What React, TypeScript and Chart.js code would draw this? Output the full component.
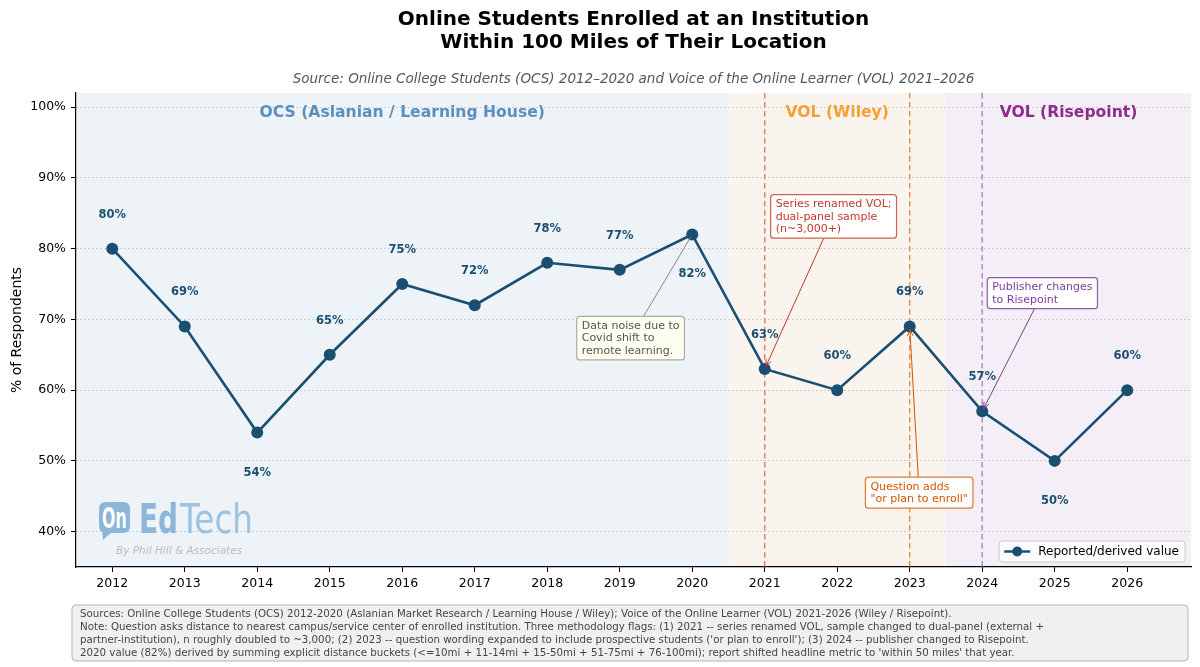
import React, { useEffect, useRef } from "react";
import { Chart, registerables } from "chart.js";
Chart.register(...registerables);

const YEARS = [2012, 2013, 2014, 2015, 2016, 2017, 2018, 2019, 2020, 2021, 2022, 2023, 2024, 2025, 2026];
const VALUES = [80, 69, 54, 65, 75, 72, 78, 77, 82, 63, 60, 69, 57, 50, 60];
const LABEL_BELOW_YEARS = [2014, 2020, 2025];
const Y_TICKS = [40, 50, 60, 70, 80, 90, 100];

const TITLE_LINES = ["Online Students Enrolled at an Institution", "Within 100 Miles of Their Location"];
const SUBTITLE = "Source: Online College Students (OCS) 2012\u20132020 and Voice of the Online Learner (VOL) 2021\u20132026";
const Y_TITLE = "% of Respondents";
const LEGEND_LABEL = "Reported/derived value";
const FOOTER_LINES = [
  "Sources: Online College Students (OCS) 2012-2020 (Aslanian Market Research / Learning House / Wiley); Voice of the Online Learner (VOL) 2021-2026 (Wiley / Risepoint).",
  "Note: Question asks distance to nearest campus/service center of enrolled institution. Three methodology flags: (1) 2021 -- series renamed VOL, sample changed to dual-panel (external +",
  "partner-institution), n roughly doubled to ~3,000; (2) 2023 -- question wording expanded to include prospective students ('or plan to enroll'); (3) 2024 -- publisher changed to Risepoint.",
  "2020 value (82%) derived by summing explicit distance buckets (<=10mi + 11-14mi + 15-50mi + 51-75mi + 76-100mi); report shifted headline metric to 'within 50 miles' that year.",
];

const REGION_NAMES = ["OCS (Aslanian / Learning House)", "VOL (Wiley)", "VOL (Risepoint)"];
const REGION_STARTS = [2011.5, 2020.5, 2023.5];
const REGION_ENDS = [2020.5, 2023.5, 2027];
const REGION_FILLS = ["#eef3f7", "#faf4ef", "#f4eff6"];
const REGION_TEXT = ["#5b8fbf", "#f5a034", "#8e2b8e"];

const FLAG_YEARS = [2021, 2023, 2024];
const FLAG_COLORS = ["#e3806f", "#e0934f", "#b586cc"];

const NOTE_TEXTS = [
  ["Data noise due to", "Covid shift to", "remote learning."],
  ["Series renamed VOL;", "dual-panel sample", "(n~3,000+)"],
  ["Question adds", "\"or plan to enroll\""],
  ["Publisher changes", "to Risepoint"],
];
const NOTE_TARGET_YEARS = [2020, 2021, 2023, 2024];
const NOTE_X = [2019.15, 2021.95, 2023.13, 2024.83];
const NOTE_Y = [67.35, 84.55, 45.5, 73.7];
const NOTE_TEXT_COLORS = ["#555555", "#c0392b", "#d35400", "#7d3c98"];
const NOTE_BORDERS = ["#aaaaaa", "#d0604f", "#e07a30", "#8e5aa8"];
const NOTE_BG = ["#fdfdf0", "#ffffff", "#ffffff", "#ffffff"];
const NOTE_HEADS = [false, true, true, true];

const LINE_COLOR = "#1a4f72";
const FF = '"DejaVu Sans", sans-serif';
const f = (size: number, weight = "normal", style = "normal") => `${style} ${weight} ${size}px ${FF}`;

function rrect(ctx: CanvasRenderingContext2D, x: number, y: number, w: number, h: number, r: number) {
  ctx.beginPath();
  ctx.moveTo(x + r, y);
  ctx.lineTo(x + w - r, y);
  ctx.quadraticCurveTo(x + w, y, x + w, y + r);
  ctx.lineTo(x + w, y + h - r);
  ctx.quadraticCurveTo(x + w, y + h, x + w - r, y + h);
  ctx.lineTo(x + r, y + h);
  ctx.quadraticCurveTo(x, y + h, x, y + h - r);
  ctx.lineTo(x, y + r);
  ctx.quadraticCurveTo(x, y, x + r, y);
  ctx.closePath();
}

const decor = {
  id: "decor",
  beforeDraw(chart: any) {
    const { ctx, chartArea: ca, scales } = chart;
    const x = scales.x;
    ctx.save();
    ctx.fillStyle = "#ffffff";
    ctx.fillRect(0, 0, chart.width, chart.height);
    for (let i = 0; i < REGION_NAMES.length; i++) {
      const x1 = Math.max(ca.left, x.getPixelForValue(REGION_STARTS[i]));
      const x2 = Math.min(ca.right, x.getPixelForValue(REGION_ENDS[i]));
      ctx.fillStyle = REGION_FILLS[i];
      ctx.fillRect(x1, ca.top, x2 - x1, ca.bottom - ca.top);
    }
    const cx = (ca.left + ca.right) / 2;
    ctx.fillStyle = "#000";
    ctx.textAlign = "center";
    ctx.textBaseline = "middle";
    ctx.font = f(20, "bold");
    ctx.fillText(TITLE_LINES[0], cx, 20);
    ctx.fillText(TITLE_LINES[1], cx, 42.5);
    ctx.font = f(13.5, "normal", "italic");
    ctx.fillStyle = "#555555";
    ctx.fillText(SUBTITLE, cx, 79);
    ctx.restore();
  },
  beforeDatasetsDraw(chart: any) {
    const { ctx, chartArea: ca, scales } = chart;
    const x = scales.x;
    ctx.save();
    for (let i = 0; i < FLAG_YEARS.length; i++) {
      const px = x.getPixelForValue(FLAG_YEARS[i]);
      ctx.strokeStyle = FLAG_COLORS[i];
      ctx.lineWidth = 1.5;
      ctx.setLineDash([5.5, 3.5]);
      ctx.beginPath();
      ctx.moveTo(px, ca.top);
      ctx.lineTo(px, ca.bottom);
      ctx.stroke();
    }
    ctx.setLineDash([]);
    ctx.textAlign = "center";
    ctx.textBaseline = "middle";
    ctx.font = f(15.6, "bold");
    for (let i = 0; i < REGION_NAMES.length; i++) {
      const x1 = Math.max(ca.left, x.getPixelForValue(REGION_STARTS[i]));
      const x2 = Math.min(ca.right, x.getPixelForValue(REGION_ENDS[i]));
      ctx.fillStyle = REGION_TEXT[i];
      ctx.fillText(REGION_NAMES[i], (x1 + x2) / 2, ca.top + 20);
    }
    // logo
    const lx = ca.left + 23;
    const lb = ca.bottom - 34;
    ctx.fillStyle = "#8cb6da";
    rrect(ctx, lx, lb - 31, 31, 31, 7);
    ctx.fill();
    ctx.beginPath();
    ctx.moveTo(lx + 3, lb - 4);
    ctx.lineTo(lx + 13, lb - 1);
    ctx.lineTo(lx + 4, lb + 7);
    ctx.closePath();
    ctx.fill();
    ctx.fillStyle = "#ffffff";
    ctx.textAlign = "left";
    ctx.textBaseline = "alphabetic";
    ctx.font = f(29, "bold");
    ctx.fillText("On", lx + 3, lb - 5, 25);
    ctx.fillStyle = "#8cb6da";
    ctx.font = f(41, "bold");
    ctx.fillText("Ed", lx + 40, lb, 39);
    ctx.fillStyle = "#9ec2e0";
    ctx.font = f(41, "normal");
    ctx.fillText("Tech", lx + 81, lb, 73);
    ctx.fillStyle = "#bbbbbb";
    ctx.font = f(10.5, "normal", "italic");
    ctx.fillText("By Phil Hill & Associates", lx + 17, lb + 21);
    ctx.restore();
  },
  afterDatasetsDraw(chart: any) {
    const { ctx, scales } = chart;
    const x = scales.x;
    const y = scales.y;
    ctx.save();
    ctx.font = f(11.5, "bold");
    ctx.fillStyle = LINE_COLOR;
    ctx.textAlign = "center";
    ctx.textBaseline = "middle";
    YEARS.forEach((yr, i) => {
      const px = x.getPixelForValue(yr);
      const py = y.getPixelForValue(VALUES[i]);
      const below = LABEL_BELOW_YEARS.includes(yr);
      ctx.fillText(`${VALUES[i]}%`, px, below ? py + 40 : py - 34);
    });
    for (let i = 0; i < NOTE_TEXTS.length; i++) {
      const lines = NOTE_TEXTS[i];
      ctx.font = f(11);
      const lh = 12.5;
      const w = Math.max(...lines.map((l) => ctx.measureText(l).width)) + 10;
      const h = lines.length * lh + 6;
      const cx = x.getPixelForValue(NOTE_X[i]);
      const cy = y.getPixelForValue(NOTE_Y[i]);
      const bx = cx - w / 2;
      const by = cy - h / 2;
      const tIdx = YEARS.indexOf(NOTE_TARGET_YEARS[i]);
      const tx = x.getPixelForValue(NOTE_TARGET_YEARS[i]);
      const ty = y.getPixelForValue(VALUES[tIdx]);
      const dx = tx - cx;
      const dy = ty - cy;
      const tX = dx !== 0 ? Math.abs(w / 2 / dx) : Infinity;
      const tY = dy !== 0 ? Math.abs(h / 2 / dy) : Infinity;
      const t = Math.min(tX, tY);
      const sx = cx + dx * t;
      const sy = cy + dy * t;
      const len = Math.hypot(tx - sx, ty - sy);
      const ux = (tx - sx) / len;
      const uy = (ty - sy) / len;
      const ex = tx - ux * 3;
      const ey = ty - uy * 3;
      ctx.strokeStyle = NOTE_HEADS[i] ? NOTE_TEXT_COLORS[i] : "#888888";
      ctx.lineWidth = 1;
      ctx.beginPath();
      ctx.moveTo(sx, sy);
      ctx.lineTo(ex, ey);
      ctx.stroke();
      if (NOTE_HEADS[i]) {
        const a = Math.atan2(uy, ux);
        const hl = 7;
        const sp = 0.4;
        ctx.beginPath();
        ctx.moveTo(ex - hl * Math.cos(a - sp), ey - hl * Math.sin(a - sp));
        ctx.lineTo(ex, ey);
        ctx.lineTo(ex - hl * Math.cos(a + sp), ey - hl * Math.sin(a + sp));
        ctx.stroke();
      }
      rrect(ctx, bx, by, w, h, 3);
      ctx.fillStyle = NOTE_BG[i];
      ctx.fill();
      ctx.strokeStyle = NOTE_BORDERS[i];
      ctx.lineWidth = 1.2;
      ctx.stroke();
      ctx.fillStyle = NOTE_TEXT_COLORS[i];
      ctx.textAlign = "left";
      ctx.textBaseline = "middle";
      lines.forEach((l, k) => ctx.fillText(l, bx + 5, by + 3 + lh * (k + 0.5) + 0.5));
    }
    ctx.restore();
  },
  afterDraw(chart: any) {
    const { ctx, chartArea: ca } = chart;
    ctx.save();
    ctx.font = f(12);
    const tw = ctx.measureText(LEGEND_LABEL).width;
    const lw = tw + 45;
    const lhgt = 21;
    const lx = ca.right - 6 - lw;
    const ly = ca.bottom - 5 - lhgt;
    rrect(ctx, lx, ly, lw, lhgt, 3);
    ctx.fillStyle = "rgba(255,255,255,0.85)";
    ctx.fill();
    ctx.strokeStyle = "#cccccc";
    ctx.lineWidth = 1;
    ctx.stroke();
    const my = ly + lhgt / 2;
    ctx.strokeStyle = LINE_COLOR;
    ctx.lineWidth = 2.5;
    ctx.beginPath();
    ctx.moveTo(lx + 5, my);
    ctx.lineTo(lx + 31, my);
    ctx.stroke();
    ctx.fillStyle = LINE_COLOR;
    ctx.beginPath();
    ctx.arc(lx + 18, my, 5, 0, Math.PI * 2);
    ctx.fill();
    ctx.fillStyle = "#000";
    ctx.textAlign = "left";
    ctx.textBaseline = "middle";
    ctx.fillText(LEGEND_LABEL, lx + 39, my + 0.5);
    rrect(ctx, 72, 605, 1116, 56, 4);
    ctx.fillStyle = "#f0f0f0";
    ctx.fill();
    ctx.strokeStyle = "#b5b5b5";
    ctx.lineWidth = 1;
    ctx.stroke();
    ctx.fillStyle = "#444444";
    ctx.font = f(10.25);
    FOOTER_LINES.forEach((l, k) => ctx.fillText(l, 80, 614.5 + k * 13));
    ctx.restore();
  },
};

export default function App() {
  const ref = useRef<HTMLCanvasElement | null>(null);
  useEffect(() => {
    document.body.style.margin = "0";
    if (!ref.current) return;
    const chart = new Chart(ref.current, {
      type: "line",
      data: {
        datasets: [
          {
            label: LEGEND_LABEL,
            data: YEARS.map((yr, i) => ({ x: yr, y: VALUES[i] })),
            borderColor: LINE_COLOR,
            backgroundColor: LINE_COLOR,
            borderWidth: 2.6,
            pointRadius: 6,
            pointHoverRadius: 6,
            pointBackgroundColor: LINE_COLOR,
            pointBorderWidth: 0,
            tension: 0,
            clip: false as any,
          },
        ],
      },
      options: {
        animation: false,
        responsive: true,
        maintainAspectRatio: false,
        devicePixelRatio: 1,
        layout: { padding: { top: 93, left: 0, right: 9, bottom: 0 } },
        plugins: { legend: { display: false }, tooltip: { enabled: false }, title: { display: false } },
        scales: {
          x: {
            type: "linear",
            min: 2011.5,
            max: 2026.88,
            afterBuildTicks: (s: any) => {
              s.ticks = YEARS.map((v) => ({ value: v }));
            },
            afterFit: (s: any) => {
              s.height = 100;
            },
            ticks: {
              autoSkip: false,
              maxRotation: 0,
              padding: 4,
              color: "#000",
              font: { family: FF, size: 12.5 },
              callback: (v: any) => String(v),
            },
            grid: { display: true, drawOnChartArea: false, drawTicks: true, tickLength: 5, tickColor: "#000", tickWidth: 1 },
            border: { display: true, color: "#000", width: 1.2 },
          },
          y: {
            type: "linear",
            min: 35,
            max: 102,
            afterBuildTicks: (s: any) => {
              s.ticks = Y_TICKS.map((v) => ({ value: v }));
            },
            afterFit: (s: any) => {
              s.width = 76;
            },
            ticks: {
              padding: 5,
              color: "#000",
              font: { family: FF, size: 12.5 },
              callback: (v: any) => `${v}%`,
            },
            grid: { color: "#bdbdbd", lineWidth: 0.9, tickLength: 5, tickColor: "#000", tickWidth: 1 },
            border: { display: true, color: "#000", width: 1.2, dash: [1.5, 2.5] },
            title: { display: true, text: Y_TITLE, color: "#000", font: { family: FF, size: 14 }, padding: { top: 9, bottom: 0 } },
          },
        },
      },
      plugins: [decor],
    } as any);
    return () => chart.destroy();
  }, []);
  return (
    <div style={{ width: 1200, height: 667, position: "relative" }}>
      <canvas ref={ref} />
    </div>
  );
}
